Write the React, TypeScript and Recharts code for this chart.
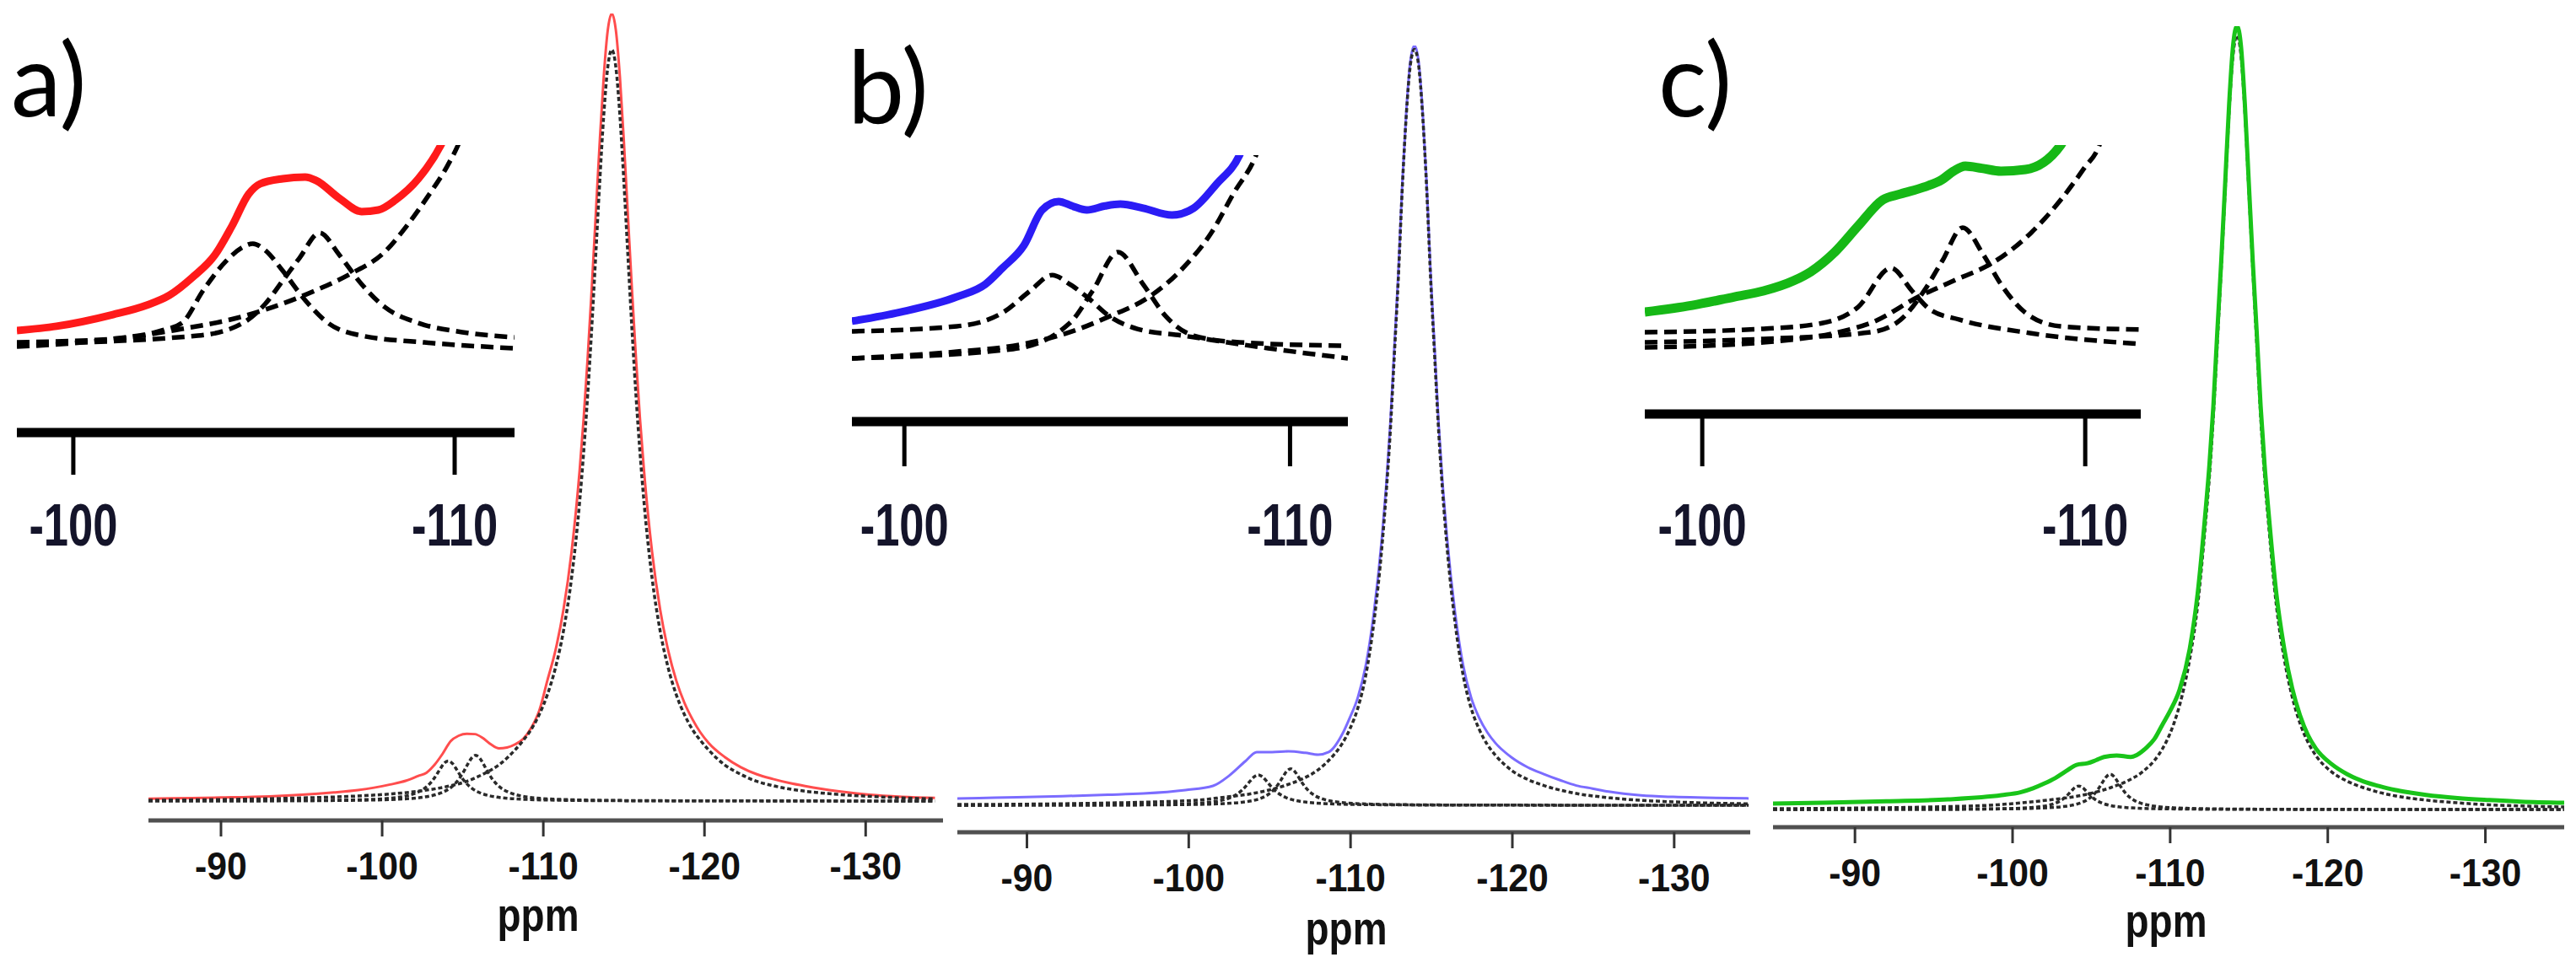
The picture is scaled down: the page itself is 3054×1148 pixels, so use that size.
import { LineChart, Line, XAxis, YAxis } from "recharts";

type Pt = [number, number];

// ---- panel a, full spectrum (ppm, intensity, main peak = 100) ----
const aSpectrum: Pt[] = [
  [-85.5, 0.3], [-87, 0.35], [-90, 0.45], [-93, 0.6], [-95, 0.8], [-97, 1.1], [-98.5, 1.4], [-99.5, 1.7],
  [-100.5, 2.1], [-101.5, 2.6], [-102.25, 3.2], [-102.75, 3.6], [-103.25, 4.6], [-103.75, 6.0], [-104.25, 7.6],
  [-104.75, 8.3], [-105.25, 8.55], [-105.75, 8.5], [-106.25, 8.0], [-106.75, 7.2], [-107.25, 6.7], [-107.75, 6.8],
  [-108.25, 7.2], [-108.75, 7.9], [-109.25, 9.3], [-109.75, 11.5], [-110.25, 15.3], [-110.75, 19.1], [-111.25, 24.3],
  [-111.75, 31.6], [-112.25, 41.9], [-112.5, 48.5], [-112.75, 56.2], [-113, 64.9], [-113.25, 74.3], [-113.5, 83.7],
  [-113.75, 92], [-114, 97.9], [-114.25, 100], [-114.5, 97.9], [-114.75, 92], [-115, 83.7], [-115.25, 74.3],
  [-115.5, 64.9], [-115.75, 56.2], [-116, 48.5], [-116.25, 41.9], [-116.75, 31.6], [-117.25, 24.3], [-117.75, 19.1],
  [-118.25, 15.3], [-118.75, 12.5], [-119.25, 10.4], [-119.75, 8.7], [-120.25, 7.4], [-121.25, 5.6], [-122.25, 4.3],
  [-123.25, 3.4], [-124.25, 2.8], [-125.25, 2.3], [-126.25, 1.9], [-127.25, 1.55], [-128.25, 1.25], [-130.25, 0.8],
  [-132.25, 0.55], [-134.3, 0.4],
];
const aFitMain: Pt[] = [
  [-85.5, 0.1], [-90, 0.2], [-94, 0.35], [-98, 0.6], [-100.5, 0.9], [-102.25, 1.25], [-104.25, 1.95], [-105.25, 2.5],
  [-106.25, 3.4], [-107.25, 4.6], [-108.25, 6.5], [-108.75, 7.7], [-109.25, 9.1], [-109.75, 11.0], [-110.25, 13.5],
  [-110.75, 16.9], [-111.25, 21.6], [-111.75, 28.3], [-112.25, 37.9], [-112.5, 44.2], [-112.75, 51.5], [-113, 59.9],
  [-113.25, 69.2], [-113.5, 78.6], [-113.75, 87.1], [-114, 93.2], [-114.25, 95.4], [-114.5, 93.2], [-114.75, 87.1],
  [-115, 78.6], [-115.25, 69.2], [-115.5, 59.9], [-115.75, 51.5], [-116, 44.2], [-116.25, 37.9], [-116.75, 28.3],
  [-117.25, 21.6], [-117.75, 16.9], [-118.25, 13.5], [-118.75, 11.0], [-119.25, 9.1], [-119.75, 7.7], [-120.25, 6.5],
  [-121.25, 4.6], [-122.25, 3.4], [-123.25, 2.5], [-124.25, 1.95], [-126.25, 1.25], [-128.25, 0.85], [-130.25, 0.6],
  [-132.25, 0.4], [-134.3, 0.28],
];
const aFit104: Pt[] = [
  [-85.5, 0.02], [-95, 0.06], [-99, 0.19], [-100.5, 0.36], [-101.5, 0.66], [-102.1, 1.02], [-102.6, 1.57],
  [-103.1, 2.55], [-103.35, 3.26], [-103.6, 4.08], [-103.85, 4.8], [-104.1, 5.1], [-104.35, 4.8], [-104.6, 4.08],
  [-104.85, 3.26], [-105.1, 2.55], [-105.6, 1.57], [-106.1, 1.02], [-106.6, 0.7], [-107.1, 0.51], [-108.1, 0.3],
  [-109.1, 0.2], [-111.1, 0.1], [-114.1, 0.05], [-120, 0.02], [-134.3, 0.01],
];
const aFit106: Pt[] = [
  [-85.5, 0.02], [-95, 0.05], [-99, 0.12], [-101, 0.24], [-102.3, 0.43], [-103.3, 0.8], [-103.8, 1.16],
  [-104.3, 1.78], [-104.8, 2.9], [-105.05, 3.71], [-105.3, 4.64], [-105.55, 5.46], [-105.8, 5.8], [-106.05, 5.46],
  [-106.3, 4.64], [-106.55, 3.71], [-106.8, 2.9], [-107.3, 1.78], [-107.8, 1.16], [-108.3, 0.8], [-108.8, 0.58],
  [-109.8, 0.34], [-110.8, 0.23], [-112.8, 0.12], [-115.8, 0.06], [-120.8, 0.03], [-134.3, 0.01],
];

// ---- panel b, full spectrum ----
const bSpectrum: Pt[] = [
  [-85.7, 0.9], [-88, 1.0], [-92.2, 1.2], [-95, 1.38], [-97.2, 1.55], [-99.8, 2.0], [-101.5, 2.55], [-102.5, 3.9],
  [-103.5, 5.8], [-104.2, 7.0], [-105.15, 7.0], [-106.15, 7.1], [-107.2, 6.9], [-108, 6.66], [-108.65, 7.0],
  [-109.5, 9.4], [-109.95, 11.5], [-110.45, 14.2], [-110.95, 18.5], [-111.45, 25.5], [-111.95, 35.5], [-112.2, 42],
  [-112.45, 50], [-112.7, 60], [-112.95, 70], [-113.2, 82], [-113.45, 91.5], [-113.7, 98], [-113.95, 100],
  [-114.2, 98], [-114.45, 91.5], [-114.7, 82], [-114.95, 70], [-115.2, 60], [-115.45, 50], [-115.7, 42],
  [-115.95, 35.5], [-116.45, 25.5], [-116.95, 18.5], [-117.45, 14.2], [-117.95, 11.5], [-118.45, 9.6],
  [-118.95, 8.2], [-119.95, 6.3], [-120.95, 5.0], [-121.95, 4.1], [-122.95, 3.3], [-123.95, 2.6], [-124.95, 2.2],
  [-125.95, 1.8], [-127.95, 1.3], [-129.95, 1.1], [-131.95, 1.0], [-134.6, 0.9],
];
const bFitMain: Pt[] = [
  [-85.7, 0.1], [-90, 0.15], [-95, 0.3], [-98, 0.45], [-100.95, 0.75], [-101.95, 1.0], [-103.95, 1.55],
  [-104.95, 2.0], [-105.95, 2.6], [-106.95, 3.4], [-107.95, 4.6], [-108.95, 6.6], [-109.45, 8.0], [-109.95, 10.0],
  [-110.45, 12.8], [-110.95, 17.2], [-111.45, 24.2], [-111.95, 34.3], [-112.2, 41], [-112.45, 49], [-112.7, 59],
  [-112.95, 69.2], [-113.2, 81.3], [-113.45, 91], [-113.7, 97.5], [-113.95, 99.5], [-114.2, 97.5], [-114.45, 91],
  [-114.7, 81.3], [-114.95, 69.2], [-115.2, 59], [-115.45, 49], [-115.7, 41], [-115.95, 34.3], [-116.45, 24.2],
  [-116.95, 17.2], [-117.45, 12.8], [-117.95, 10.0], [-118.45, 8.0], [-118.95, 6.6], [-119.95, 4.6], [-120.95, 3.4],
  [-121.95, 2.6], [-122.95, 2.0], [-123.95, 1.55], [-125.95, 1.0], [-127.95, 0.65], [-129.95, 0.45],
  [-131.95, 0.3], [-134.6, 0.2],
];
const bFit104: Pt[] = [
  [-85.7, 0.01], [-94.3, 0.04], [-97.3, 0.08], [-99.3, 0.154], [-100.3, 0.235], [-101.3, 0.4], [-101.8, 0.55],
  [-102.3, 0.8], [-102.8, 1.23], [-103.3, 2.0], [-103.55, 2.56], [-103.8, 3.2], [-104.05, 3.76], [-104.3, 4.0],
  [-104.55, 3.76], [-104.8, 3.2], [-105.05, 2.56], [-105.3, 2.0], [-105.8, 1.23], [-106.3, 0.8], [-106.8, 0.55],
  [-107.3, 0.4], [-108.3, 0.235], [-109.3, 0.154], [-111.3, 0.08], [-114.3, 0.04], [-124.3, 0.01], [-134.6, 0.005],
];
const bFit106: Pt[] = [
  [-85.7, 0.01], [-96.3, 0.039], [-99.3, 0.078], [-101.3, 0.15], [-102.3, 0.23], [-103.3, 0.4], [-103.8, 0.55],
  [-104.3, 0.81], [-104.8, 1.27], [-105.3, 2.15], [-105.55, 2.83], [-105.8, 3.67], [-106.05, 4.46], [-106.3, 4.8],
  [-106.55, 4.46], [-106.8, 3.67], [-107.05, 2.83], [-107.3, 2.15], [-107.8, 1.27], [-108.3, 0.81], [-108.8, 0.55],
  [-109.3, 0.4], [-110.3, 0.23], [-111.3, 0.15], [-113.3, 0.078], [-116.3, 0.039], [-126.3, 0.01], [-134.6, 0.005],
];

// ---- panel c, full spectrum ----
const cSpectrum: Pt[] = [
  [-84.8, 0.75], [-88, 0.85], [-92, 1.05], [-95.9, 1.29], [-99.3, 1.83], [-100.5, 2.2], [-101.3, 2.7], [-102.0, 3.3],
  [-102.7, 4.0], [-103.4, 4.9], [-104.06, 5.7], [-104.76, 5.9], [-105.3, 6.3], [-105.8, 6.7], [-106.6, 6.9],
  [-107.5, 6.7], [-108.5, 7.9], [-109.0, 9.0], [-109.5, 10.8], [-110.0, 12.6], [-110.6, 15.3], [-111.24, 20.5],
  [-111.74, 27.5], [-112.24, 38], [-112.49, 44], [-112.74, 51.5], [-112.99, 61], [-113.24, 70], [-113.49, 80],
  [-113.74, 90], [-113.99, 97.5], [-114.24, 100], [-114.49, 97.5], [-114.74, 90], [-114.99, 80], [-115.24, 70],
  [-115.49, 61], [-115.74, 51.5], [-115.99, 44], [-116.24, 38], [-116.74, 27.5], [-117.24, 20.5], [-117.74, 15.5],
  [-118.24, 12], [-118.74, 9.5], [-119.24, 7.8], [-120.24, 5.8], [-121.24, 4.5], [-122.24, 3.6], [-123.24, 3.0],
  [-124.24, 2.5], [-125.24, 2.15], [-126.24, 1.85], [-128.24, 1.45], [-130.24, 1.2], [-132.24, 1.0], [-135, 0.85],
];
const cFitMain: Pt[] = [
  [-84.8, 0.1], [-90, 0.18], [-95, 0.33], [-99, 0.6], [-102.24, 1.2], [-104.24, 1.75], [-105.24, 2.2],
  [-106.24, 2.8], [-107.24, 3.6], [-108.24, 4.8], [-109.24, 6.9], [-109.74, 8.6], [-110.24, 11.0], [-110.74, 14.4],
  [-111.24, 19.2], [-111.74, 26], [-112.24, 36.5], [-112.49, 42.5], [-112.74, 50.2], [-112.99, 59.5], [-113.24, 69],
  [-113.49, 79], [-113.74, 89], [-113.99, 96.3], [-114.24, 98.8], [-114.49, 96.3], [-114.74, 89], [-114.99, 79],
  [-115.24, 69], [-115.49, 59.5], [-115.74, 50.2], [-115.99, 42.5], [-116.24, 36.5], [-116.74, 26], [-117.24, 19.2],
  [-117.74, 14.4], [-118.24, 11.0], [-118.74, 8.6], [-119.24, 6.9], [-120.24, 4.8], [-121.24, 3.6], [-122.24, 2.8],
  [-123.24, 2.2], [-124.24, 1.75], [-126.24, 1.2], [-128.24, 0.85], [-130.24, 0.6], [-132.24, 0.45], [-135, 0.32],
];
const cFit104: Pt[] = [
  [-84.8, 0.006], [-94.2, 0.024], [-97.2, 0.049], [-99.2, 0.094], [-100.2, 0.144], [-101.2, 0.25], [-101.7, 0.34],
  [-102.2, 0.51], [-102.7, 0.79], [-103.2, 1.34], [-103.45, 1.77], [-103.7, 2.29], [-103.95, 2.79], [-104.2, 3.0],
  [-104.45, 2.79], [-104.7, 2.29], [-104.95, 1.77], [-105.2, 1.34], [-105.7, 0.79], [-106.2, 0.51], [-106.7, 0.34],
  [-107.2, 0.25], [-108.2, 0.144], [-109.2, 0.094], [-111.2, 0.049], [-114.2, 0.024], [-124.2, 0.006], [-135, 0.003],
];
const cFit106: Pt[] = [
  [-84.8, 0.009], [-96.2, 0.036], [-99.2, 0.073], [-101.2, 0.14], [-102.2, 0.22], [-103.2, 0.37], [-103.7, 0.52],
  [-104.2, 0.76], [-104.7, 1.19], [-105.2, 2.01], [-105.45, 2.66], [-105.7, 3.44], [-105.95, 4.18], [-106.2, 4.5],
  [-106.45, 4.18], [-106.7, 3.44], [-106.95, 2.66], [-107.2, 2.01], [-107.7, 1.19], [-108.2, 0.76], [-108.7, 0.52],
  [-109.2, 0.37], [-110.2, 0.22], [-111.2, 0.14], [-113.2, 0.073], [-116.2, 0.036], [-126.2, 0.009], [-135, 0.004],
];

// ---- insets: magnified -98 .. -111 ppm region ----
const aZoomSpectrum: Pt[] = [
  [-98.52, 0.91], [-99.56, 1.12], [-101.04, 1.69], [-101.92, 2.15], [-102.52, 2.64], [-103.12, 3.51], [-103.72, 4.63],
  [-104.16, 6.03], [-104.6, 7.6], [-104.9, 8.1], [-105.49, 8.35], [-106.08, 8.43], [-106.37, 8.26], [-106.97, 7.4],
  [-107.56, 6.74], [-108.0, 6.82], [-108.45, 7.31], [-109.05, 8.35], [-109.64, 10.0], [-110.0, 11.5],
];
const aZoom104: Pt[] = [
  [-98.52, 0.12], [-101.04, 0.5], [-102.3, 0.9], [-102.85, 1.28], [-103.41, 2.89], [-104.0, 4.3], [-104.45, 5.0],
  [-104.71, 5.17], [-105.04, 4.83], [-105.49, 3.84], [-106.08, 2.4], [-106.68, 1.28], [-107.56, 0.66],
  [-109.2, 0.33], [-111.57, 0.04],
];
const aZoom106: Pt[] = [
  [-98.52, 0.25], [-103.27, 0.66], [-104.45, 1.28], [-105.04, 2.23], [-105.49, 3.35], [-105.93, 4.46],
  [-106.46, 5.7], [-106.97, 4.63], [-107.56, 3.18], [-108.16, 2.07], [-109.05, 1.28], [-110.2, 0.83], [-111.57, 0.58],
];
const aZoomMain: Pt[] = [
  [-98.52, 0.33], [-101.04, 0.5], [-102.85, 0.99], [-104.3, 1.53], [-105.49, 2.23], [-106.37, 2.89], [-107.26, 3.68],
  [-108.16, 4.75], [-108.74, 6.03], [-109.34, 7.6], [-109.78, 8.88], [-110.09, 10.0], [-110.4, 11.5],
];

const bZoomSpectrum: Pt[] = [
  [-98.64, 1.83], [-99.9, 2.28], [-101.36, 3.03], [-102.1, 3.65], [-102.54, 4.44], [-103.1, 5.56], [-103.57, 7.3],
  [-104.0, 7.72], [-104.35, 7.5], [-104.73, 7.3], [-105.2, 7.5], [-105.6, 7.59], [-106.19, 7.39], [-106.94, 7.05],
  [-107.5, 7.39], [-108.1, 8.59], [-108.69, 10.0], [-109.0, 11.5],
];
const bZoom104: Pt[] = [
  [-98.64, 1.33], [-101.36, 1.58], [-102.54, 2.24], [-103.26, 3.32], [-103.83, 4.1], [-104.29, 3.65],
  [-104.73, 3.03], [-105.32, 2.07], [-106.04, 1.45], [-107.22, 1.12], [-109.43, 0.5], [-111.5, 0.0],
];
const bZoom106: Pt[] = [
  [-98.64, 0.0], [-102.82, 0.46], [-104.29, 1.74], [-104.88, 3.32], [-105.54, 5.23], [-106.19, 3.65],
  [-106.78, 2.07], [-107.5, 1.12], [-108.69, 0.79], [-111.5, 0.62],
];
const bZoomMain: Pt[] = [
  [-98.64, 0.0], [-101.36, 0.33], [-102.82, 0.62], [-104.29, 1.29], [-105.32, 2.07], [-106.35, 3.03],
  [-107.22, 4.44], [-107.96, 6.18], [-108.53, 8.1], [-109.12, 10.0], [-109.4, 11.5],
];

const cZoomSpectrum: Pt[] = [
  [-98.5, 1.75], [-99.74, 2.08], [-100.84, 2.5], [-101.6, 2.79], [-102.38, 3.29], [-102.84, 3.75], [-103.46, 4.71],
  [-104.07, 6.0], [-104.71, 7.29], [-105.18, 7.58], [-105.79, 7.92], [-106.26, 8.29], [-106.56, 8.71],
  [-106.87, 8.96], [-107.3, 8.85], [-107.8, 8.71], [-108.44, 8.79], [-109.36, 10.0], [-109.7, 11.5],
];
const cZoom104: Pt[] = [
  [-98.5, 0.75], [-101.6, 0.92], [-103.15, 1.21], [-104.07, 2.0], [-104.93, 3.92], [-105.48, 2.79], [-105.95, 1.87],
  [-106.72, 1.37], [-108.59, 0.7], [-111.45, 0.17],
];
const cZoom106: Pt[] = [
  [-98.5, 0.25], [-101.6, 0.42], [-104.4, 0.75], [-105.18, 1.37], [-105.79, 2.79], [-106.26, 4.25], [-106.8, 5.92],
  [-107.34, 4.58], [-107.8, 3.12], [-108.44, 1.71], [-109.36, 1.04], [-111.45, 0.88],
];
const cZoomMain: Pt[] = [
  [-98.5, 0.0], [-101.6, 0.25], [-104.4, 1.21], [-105.64, 2.5], [-106.56, 3.29], [-107.64, 4.25], [-108.59, 5.67],
  [-109.36, 7.29], [-109.98, 8.88], [-110.37, 10.0], [-110.6, 11.5],
];

const mainTicks = [-90, -100, -110, -120, -130];
const insetTicks = [-100, -110];
const panelLabels = ["a)", "b)", "c)"];
const axisTitle = "ppm";

const SANS = "'Liberation Sans', Arial, Helvetica, sans-serif";
const FIT = { color: "#2a2a2a", width: 3.5, dash: "5 3" };
const ZOOMFIT = { color: "#000", width: 5.5, dash: "15 8" };

type Series = { data: Pt[]; color: string; width: number; dash?: string };

const rows = (pts: Pt[]) => pts.map(([ppm, v]) => ({ ppm, v }));

// the original uses a condensed Arial; squeeze Liberation Sans horizontally instead
function NarrowTick(props: any) {
  const { x, y, payload, size, squeeze, fill } = props;
  return (
    <text
      transform={`translate(${x},${y}) scale(${squeeze},1)`}
      textAnchor="middle"
      dy="0.71em"
      fontSize={size}
      fontWeight={700}
      fontFamily={SANS}
      fill={fill}
    >
      {payload.value}
    </text>
  );
}

function PpmLabel(props: any) {
  const { viewBox, offset, dx } = props;
  const x = viewBox.x + viewBox.width / 2 + dx;
  const y = viewBox.y + viewBox.height - offset;
  return (
    <text
      transform={`translate(${x},${y}) scale(0.82,1)`}
      textAnchor="middle"
      fontSize={56}
      fontWeight={700}
      fontFamily={SANS}
      fill="#111"
    >
      {axisTitle}
    </text>
  );
}

function MainPanel(props: {
  left: number;
  width: number;
  margin: { top: number; right: number; bottom: number; left: number };
  xDomain: [number, number];
  yMin: number;
  ppmOffset: number;
  ppmDx: number;
  series: Series[];
}) {
  const { left, width, margin, xDomain, yMin, ppmOffset, ppmDx, series } = props;
  return (
    <div style={{ position: "absolute", left, top: 0, width, height: 1148 }}>
      <LineChart width={width} height={1148} margin={margin}>
        <XAxis
          type="number"
          dataKey="ppm"
          domain={xDomain}
          reversed
          allowDataOverflow
          ticks={mainTicks}
          interval={0}
          height={150}
          axisLine={{ stroke: "#505050", strokeWidth: 5 }}
          tickLine={{ stroke: "#333", strokeWidth: 3 }}
          tickSize={19}
          tickMargin={18}
          tick={(p: any) => <NarrowTick {...p} size={46} squeeze={0.93} fill="#111" />}
          label={(p: any) => <PpmLabel {...p} offset={ppmOffset} dx={ppmDx} />}
        />
        <YAxis hide domain={[yMin, 100]} allowDataOverflow />
        {series.map((s, i) => (
          <Line
            key={i}
            data={rows(s.data)}
            dataKey="v"
            type="monotone"
            stroke={s.color}
            strokeWidth={s.width}
            strokeDasharray={s.dash}
            dot={false}
            activeDot={false}
            isAnimationActive={false}
          />
        ))}
      </LineChart>
    </div>
  );
}

function InsetPanel(props: {
  left: number;
  margin: { top: number; right: number; bottom: number; left: number };
  xDomain: [number, number];
  yMin: number;
  tickSize: number;
  tickMargin: number;
  series: Series[];
}) {
  const { left, margin, xDomain, yMin, tickSize, tickMargin, series } = props;
  return (
    <div style={{ position: "absolute", left, top: 100, width: 700, height: 600 }}>
      <LineChart width={700} height={600} margin={margin}>
        <XAxis
          type="number"
          dataKey="ppm"
          domain={xDomain}
          reversed
          allowDataOverflow
          ticks={insetTicks}
          interval={0}
          height={110}
          axisLine={{ stroke: "#000", strokeWidth: 11 }}
          tickLine={{ stroke: "#000", strokeWidth: 5 }}
          tickSize={tickSize}
          tickMargin={tickMargin}
          tick={(p: any) => <NarrowTick {...p} size={70} squeeze={0.75} fill="#14142a" />}
        />
        <YAxis hide domain={[yMin, 10]} allowDataOverflow />
        {series.map((s, i) => (
          <Line
            key={i}
            data={rows(s.data)}
            dataKey="v"
            type="monotone"
            stroke={s.color}
            strokeWidth={s.width}
            strokeDasharray={s.dash}
            dot={false}
            activeDot={false}
            isAnimationActive={false}
          />
        ))}
      </LineChart>
    </div>
  );
}

export default function App() {
  return (
    <div
      style={{
        position: "absolute",
        left: 0,
        top: 0,
        width: 3054,
        height: 1148,
        background: "#fff",
        overflow: "hidden",
      }}
    >
      <MainPanel
        left={0}
        width={1150}
        margin={{ top: 16, right: 32, bottom: 25, left: 176 }}
        xDomain={[-134.8, -85.5]}
        yMin={-2.46}
        ppmOffset={19}
        ppmDx={-9}
        series={[
          { data: aSpectrum, color: "#ff4d4d", width: 3 },
          { data: aFitMain, ...FIT },
          { data: aFit104, ...FIT },
          { data: aFit106, ...FIT },
        ]}
      />
      <MainPanel
        left={1100}
        width={1000}
        margin={{ top: 54, right: 25, bottom: 11, left: 35 }}
        xDomain={[-134.7, -85.7]}
        yMin={-3.55}
        ppmOffset={17}
        ppmDx={-9}
        series={[
          { data: bSpectrum, color: "#7b6cff", width: 3 },
          { data: bFitMain, ...FIT },
          { data: bFit104, ...FIT },
          { data: bFit106, ...FIT },
        ]}
      />
      <MainPanel
        left={2060}
        width={994}
        margin={{ top: 31, right: 14, bottom: 17, left: 42 }}
        xDomain={[-135, -84.8]}
        yMin={-2.26}
        ppmOffset={20}
        ppmDx={-3}
        series={[
          { data: cFitMain, ...FIT },
          { data: cFit104, ...FIT },
          { data: cFit106, ...FIT },
          { data: cSpectrum, color: "#19c419", width: 5 },
        ]}
      />

      <InsetPanel
        left={0}
        margin={{ top: 72, right: 90, bottom: 77, left: 20 }}
        xDomain={[-111.57, -98.52]}
        yMin={-4.09}
        tickSize={50}
        tickMargin={34}
        series={[
          { data: aZoomSpectrum, color: "#ff1a1a", width: 9 },
          { data: aZoomMain, ...ZOOMFIT },
          { data: aZoom104, ...ZOOMFIT },
          { data: aZoom106, ...ZOOMFIT },
        ]}
      />
      <InsetPanel
        left={1000}
        margin={{ top: 84, right: 102, bottom: 90, left: 10 }}
        xDomain={[-111.5, -98.64]}
        yMin={-3.11}
        tickSize={53}
        tickMargin={44}
        series={[
          { data: bZoomSpectrum, color: "#2b1cf5", width: 9 },
          { data: bZoomMain, ...ZOOMFIT },
          { data: bZoom104, ...ZOOMFIT },
          { data: bZoom106, ...ZOOMFIT },
        ]}
      />
      <InsetPanel
        left={1940}
        margin={{ top: 72, right: 102, bottom: 99, left: 10 }}
        xDomain={[-111.45, -98.5]}
        yMin={-3.29}
        tickSize={62}
        tickMargin={44}
        series={[
          { data: cZoomSpectrum, color: "#16b816", width: 11 },
          { data: cZoomMain, ...ZOOMFIT },
          { data: cZoom104, ...ZOOMFIT },
          { data: cZoom106, ...ZOOMFIT },
        ]}
      />

      <svg
        width={3054}
        height={1148}
        style={{ position: "absolute", left: 0, top: 0, pointerEvents: "none" }}
      >
        <text x={13} y={138} fontFamily="Lato, 'Open Sans', sans-serif" fontSize={120} fill="#000">
          {panelLabels[0]}
        </text>
        <text x={1005} y={146} fontFamily="Lato, 'Open Sans', sans-serif" fontSize={120} fill="#000">
          {panelLabels[1]}
        </text>
        <text x={1966} y={138} fontFamily="Lato, 'Open Sans', sans-serif" fontSize={120} fill="#000">
          {panelLabels[2]}
        </text>
      </svg>
    </div>
  );
}
